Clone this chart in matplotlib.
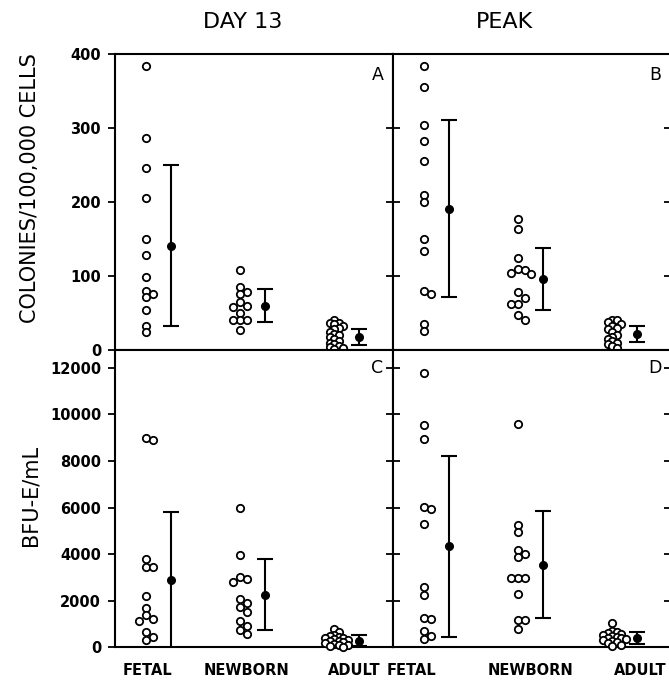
import numpy as np
import matplotlib
matplotlib.use("Agg")
import matplotlib.pyplot as plt

# ---------------- data ----------------
groups = ["FETAL", "NEWBORN", "ADULT"]
col_titles = ["DAY 13", "PEAK"]
panel_letters = ["A", "B", "C", "D"]
ylabel_top = "COLONIES/100,000 CELLS"
ylabel_bottom = "BFU-E/mL"
yticks_top = [0, 100, 200, 300, 400]
yticks_bottom = [0, 2000, 4000, 6000, 8000, 10000, 12000]

# Panel A: colonies, day 13
a_fetal = [384, 286, 246, 206, 150, 128, 98, 80, 76, 71, 54, 33, 24]
a_newborn = [108, 85, 78, 76, 65, 60, 58, 50, 41, 41, 41, 27]
a_adult = [41, 36, 36, 35, 33, 30, 28, 25, 22, 20, 18, 15, 12, 10, 8, 6, 4, 3, 2]
a_mean = [141, 60, 18]
a_sd = [109, 22, 11]

# Panel B: colonies, peak
b_fetal = [384, 356, 304, 283, 256, 209, 200, 150, 134, 80, 76, 35, 26]
b_newborn = [177, 163, 125, 109, 108, 104, 103, 78, 70, 62, 62, 47, 40]
b_adult = [40, 40, 38, 35, 33, 30, 28, 25, 20, 18, 15, 12, 10, 8, 5, 3]
b_mean = [191, 96, 22]
b_sd = [120, 42, 11]

# Panel C: BFU-E/mL, day 13
c_fetal = [8980, 8900, 3790, 3460, 3460, 2215, 1670, 1390, 1200, 1130, 670, 455, 313]
c_newborn = [6000, 3960, 3030, 2930, 2820, 2060, 1915, 1740, 1500, 1130, 910, 740, 570]
c_adult = [770, 650, 540, 480, 450, 420, 390, 350, 320, 290, 260, 230, 200, 150, 120, 80, 50, 20]
c_mean = [2890, 2250, 280]
c_sd = [2930, 1520, 240]

# Panel D: BFU-E/mL, peak
d_fetal = [11760, 9540, 8930, 6030, 5920, 5290, 2600, 2245, 1245, 1215, 713, 485, 343]
d_newborn = [9570, 5250, 4960, 4180, 3990, 3890, 2990, 2990, 2990, 2275, 1170, 1170, 773]
d_adult = [1030, 680, 650, 600, 560, 520, 480, 450, 420, 380, 350, 320, 280, 230, 180, 120, 60]
d_mean = [4330, 3550, 400]
d_sd = [3880, 2310, 240]

panels = [
    ([a_fetal, a_newborn, a_adult], a_mean, a_sd),
    ([b_fetal, b_newborn, b_adult], b_mean, b_sd),
    ([c_fetal, c_newborn, c_adult], c_mean, c_sd),
    ([d_fetal, d_newborn, d_adult], d_mean, d_sd),
]

# ---------------- layout ----------------
W, H = 669, 688
fig = plt.figure(figsize=(W / 100, H / 100), dpi=100)

def frac_box(x0, y0, x1, y1):
    return [x0 / W, 1 - y1 / H, (x1 - x0) / W, (y1 - y0) / H]

boxes = [
    frac_box(115, 54, 393, 350),
    frac_box(393, 54, 671, 350),
    frac_box(115, 350, 393, 647.3),
    frac_box(393, 350, 671, 647.3),
]
ylims = [(0, 400), (0, 400), (0, 12760), (0, 12760)]
XPX = 94.0  # pixels per category unit
xlim = (0.67, 0.67 + 278 / XPX)
mean_off = 0.266

label_pos = [[1.02, 2.07, 3.22], [0.87, 2.13, 3.30]]

def swarm(values, ypx, d=6.6, dense=False):
    placed = []
    offs = []
    step = 4.5 if dense else d
    thr = (0.62 * d) if dense else (0.92 * d)
    for v in values:
        y = v * ypx
        chosen = 0.0
        for k in [0, 1, -1, 2, -2, 3, -3, 4, -4, 5, -5]:
            x = k * step
            if all((x - px) ** 2 + (y - py) ** 2 >= thr ** 2 for px, py in placed):
                chosen = x
                break
        placed.append((chosen, y))
        offs.append(chosen / XPX)
    return offs

tick_font = dict(family="DejaVu Sans", weight="bold", size=10.5)

for i, (box, (grps, means, sds), ylim) in enumerate(zip(boxes, panels, ylims)):
    ax = fig.add_axes(box)
    ax.set_xlim(*xlim)
    ax.set_ylim(*ylim)
    ypx = (box[3] * H) / (ylim[1] - ylim[0])
    for gi, vals in enumerate(grps):
        offs = swarm(vals, ypx, dense=(gi == 2))
        xs = [gi + 1 + o for o in offs]
        ax.plot(xs, vals, linestyle="none", marker="o", ms=5.3, mfc="white",
                mec="black", mew=1.3, clip_on=False, zorder=3)
        ax.errorbar(gi + 1 + mean_off, means[gi], yerr=sds[gi], fmt="o", ms=5.5,
                    color="black", ecolor="black", elinewidth=1.5, capsize=6,
                    capthick=1.5, zorder=4)
    for s in ax.spines.values():
        s.set_linewidth(1.5)
    ax.set_yticks(yticks_top if i < 2 else yticks_bottom)
    left_col = (i % 2 == 0)
    if left_col:
        ax.tick_params(axis="y", which="both", left=True, right=True,
                       labelleft=True, direction="out", length=5, width=1.3, pad=5)
        for t in ax.yaxis.get_major_ticks():
            t.tick2line.set_marker(matplotlib.lines.TICKLEFT)
        ax.set_yticklabels([str(v) for v in ax.get_yticks().astype(int)], fontdict=tick_font)
    else:
        ax.tick_params(axis="y", left=True, right=True, labelleft=False,
                       direction="in", length=5, width=1.3)
    if i >= 2:
        ax.set_xticks(label_pos[i - 2])
        ax.set_xticklabels(groups, fontdict=tick_font)
        ax.tick_params(axis="x", length=0, pad=11)
    else:
        ax.set_xticks([])
    ax.text(0.965, 0.93 if i < 2 else 0.94, panel_letters[i], transform=ax.transAxes,
            ha="right", va="center", fontsize=12.5, family="DejaVu Sans")

# column titles
fig.text(243 / W, 1 - 22 / H, col_titles[0], ha="center", va="center",
         fontsize=16, family="DejaVu Sans")
fig.text(505 / W, 1 - 22 / H, col_titles[1], ha="center", va="center",
         fontsize=16, family="DejaVu Sans")

# y labels
fig.text(30 / W, 1 - 188 / H, ylabel_top, rotation=90, ha="center", va="center",
         fontsize=15, family="DejaVu Sans")
fig.text(30 / W, 1 - 495 / H, ylabel_bottom, rotation=90, ha="center", va="center",
         fontsize=15, family="DejaVu Sans")

fig.savefig("out.png", dpi=100)
